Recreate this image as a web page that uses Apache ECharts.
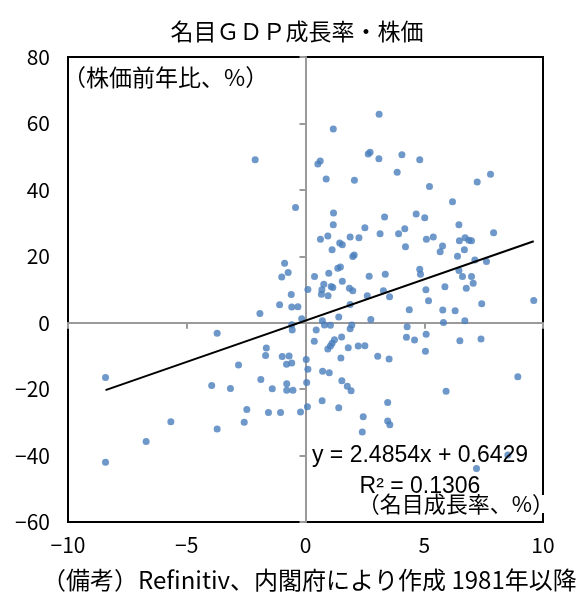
<!DOCTYPE html>
<html><head><meta charset="utf-8">
<script src="https://cdn.jsdelivr.net/npm/echarts@6/dist/echarts.min.js"></script>
<style>html,body{margin:0;padding:0;background:#fff}#c{width:586px;height:597px}</style>
</head><body><div id="c"></div>
<script>
const titleText = '名目ＧＤＰ成長率・株価';
const yAxisTitle = '（株価前年比、%）';
const xAxisTitle = '（名目成長率、%）';
const noteText = '（備考）Refinitiv、内閣府により作成 1981年以降';
const xTicks = [-10, -5, 0, 5, 10];
const yTicks = [-60, -40, -20, 0, 20, 40, 60, 80];

// x: nominal GDP growth (%), y: stock price YoY (%)
const nominalGrowth = [
  -8.42,-8.42,-6.71,-5.67,-3.95,-3.72,-3.72,-3.16,-2.82,-2.58,
  -2.47,-2.12,-1.92,-1.88,-1.65,-1.68,-1.56,-1.40,-1.09,-1.05,
  -1.0,-0.98,-0.88,-0.8,-0.79,-0.79,-0.73,-0.69,-0.6,-0.58,
  -0.58,-0.56,-0.58,-0.53,-0.42,-0.32,-0.21,-0.16,
  0.03,0.1,0.05,0.08,0.1,0.37,0.38,0.45,0.52,0.62,
  0.63,0.67,0.69,0.77,0.71,0.72,0.70,0.8,0.87,0.94,
  0.95,0.94,0.98,1.0,1.05,1.05,1.08,1.12,1.12,1.15,
  1.17,1.18,1.17,1.22,1.36,1.40,1.40,1.44,1.47,1.49,
  1.52,1.53,1.55,1.55,1.76,1.80,1.85,1.88,1.88,1.88,
  1.95,1.92,1.99,1.99,2.05,2.06,2.22,2.25,2.39,2.43,
  2.50,2.50,2.60,2.64,2.72,2.68,2.75,3.04,3.09,3.10,
  3.14,3.28,3.33,3.36,3.46,3.46,3.52,3.55,3.54,3.86,
  3.92,4.06,4.18,4.21,4.25,4.28,4.37,4.59,4.66,4.81,
  4.81,4.84,5.02,5.05,5.07,5.08,5.09,5.18,5.22,5.38,
  5.67,5.77,5.78,5.81,5.87,5.92,6.19,6.30,6.40,6.46,
  6.46,6.48,6.50,6.61,6.69,6.71,6.72,6.77,6.88,6.99,
  6.99,7.06,7.13,7.2,7.23,7.39,7.42,7.62,7.79,7.92,
  8.52,8.94,9.61
];
const stockYoY = [
  -16.5,-42.0,-35.8,-29.8,-18.9,-3.2,-32.0,-19.8,-12.7,-30.0,
  -26.1,49.1,2.8,-17.1,-7.6,-9.9,-27.0,-19.9,5.4,-27.0,
  13.8,-10.2,17.9,-12.5,-18.4,-20.3,15.1,-10.0,8.5,4.7,
  -0.6,-2.2,-12.1,-20.3,34.7,4.8,-26.9,1.2,
  -11.1,-14.0,-18.0,-25.3,10.0,-5.6,13.9,-2.2,47.8,48.7,
  25.1,8.6,9.9,11.6,0.6,-14.6,-23.5,-0.7,43.3,26.1,
  8.1,-7.9,14.9,-15.1,-0.8,-7.0,10.9,22.0,-6.2,10.6,
  58.3,33.0,29.5,-5.1,16.4,1.7,-25.6,24.0,16.8,-10.6,
  -4.3,-17.5,23.5,12.5,-19.1,-7.5,10.4,25.8,5.5,-1.8,
  -0.7,-20.5,19.9,9.6,20.4,42.9,-7.0,25.6,-32.9,-28.3,
  28.6,-6.9,8.1,50.8,51.3,14.0,1.0,-10.1,49.4,62.8,
  26.8,9.6,31.8,14.6,-24.0,-29.6,-10.9,-30.7,7.8,45.3,
  26.8,50.6,28.3,22.9,-4.4,-1.2,3.9,-5.2,32.7,49.1,
  16.1,14.6,31.6,-8.6,9.9,-3.5,25.1,6.6,41.0,25.8,
  21.4,23.1,3.8,0.1,10.8,-20.6,36.4,3.6,20.0,29.5,
  15.7,24.7,-5.4,13.9,22.0,0.6,25.6,10.4,24.8,24.7,
  13.9,11.9,18.9,-43.9,42.4,-4.9,5.7,18.4,44.7,27.1,
  -39.8,-16.3,6.7
];
const trendSlope = 2.4854;
const trendIntercept = 0.6429;
const rSquared = 0.1306;

const points = nominalGrowth.map((x, i) => [x, stockYoY[i]]);
const xLo = Math.min(...nominalGrowth), xHi = Math.max(...nominalGrowth);
const trendLine = [[xLo, trendSlope * xLo + trendIntercept], [xHi, trendSlope * xHi + trendIntercept]];

const JP = '"Noto Sans CJK JP", sans-serif';
const minusFmt = v => (v < 0 ? '\u2212' + Math.abs(v) : String(v));
const gray = '#9a9a9a';

const chart = echarts.init(document.getElementById('c'), null, {renderer: 'canvas'});
chart.setOption({
  animation: false,
  backgroundColor: '#fff',
  grid: {left: 68, right: 43, top: 57, bottom: 75, show: true, borderColor: '#000', borderWidth: 2, outerBoundsMode: 'none'},
  xAxis: [
    {type: 'value', min: xTicks[0], max: xTicks[xTicks.length - 1], interval: 5, position: 'bottom',
     axisLine: {show: false, onZero: false}, axisTick: {show: false}, splitLine: {show: false},
     axisLabel: {margin: 13, color: '#000', fontSize: 21, fontFamily: JP, formatter: minusFmt}},
    {type: 'value', min: xTicks[0], max: xTicks[xTicks.length - 1], interval: 5, position: 'bottom',
     axisLine: {show: true, onZero: true, onZeroAxisIndex: 0, lineStyle: {color: gray, width: 2}},
     axisTick: {show: true, length: 6, lineStyle: {color: gray, width: 2}},
     axisLabel: {show: false}, splitLine: {show: false}}
  ],
  yAxis: [
    {type: 'value', min: yTicks[0], max: yTicks[yTicks.length - 1], interval: 20, position: 'left',
     axisLine: {show: false, onZero: false}, axisTick: {show: false}, splitLine: {show: false},
     axisLabel: {margin: 18, color: '#000', fontSize: 21, fontFamily: JP, formatter: minusFmt}},
    {type: 'value', min: yTicks[0], max: yTicks[yTicks.length - 1], interval: 20, position: 'left',
     axisLine: {show: true, onZero: true, onZeroAxisIndex: 0, lineStyle: {color: gray, width: 2}},
     axisTick: {show: true, length: 6, lineStyle: {color: gray, width: 2}},
     axisLabel: {show: false}, splitLine: {show: false}}
  ],
  series: [
    {type: 'scatter', xAxisIndex: 0, yAxisIndex: 0, data: points, symbol: 'circle', symbolSize: 7,
     itemStyle: {color: '#4a7ebb'}, z: 3},
    {type: 'line', xAxisIndex: 0, yAxisIndex: 0, data: trendLine, showSymbol: false, symbol: 'none',
     lineStyle: {color: '#000', width: 2}, z: 4}
  ],
  graphic: [
    {type: 'text', x: 297, y: 31, z: 10, style: {text: titleText, font: '23px ' + JP, fill: '#000', align: 'center', verticalAlign: 'middle'}},
    {type: 'text', x: 63, y: 77, z: 10, style: {text: yAxisTitle, font: '23px ' + JP, fill: '#000', align: 'left', verticalAlign: 'middle'}},
    {type: 'text', x: 420, y: 456, z: 10, style: {text: 'y = ' + trendSlope + 'x + ' + trendIntercept, font: '23px "Liberation Sans", sans-serif', fill: '#000', align: 'center', verticalAlign: 'middle'}},
    {type: 'text', x: 420, y: 487, z: 10, style: {text: 'R² = ' + rSquared, font: '23px "Liberation Sans", sans-serif', fill: '#000', align: 'center', verticalAlign: 'middle'}},
    {type: 'text', x: 554, y: 504, z: 11, style: {text: xAxisTitle, font: '22px ' + JP, lineHeight: 18, fill: '#000', align: 'right', verticalAlign: 'middle', backgroundColor: '#fff'}},
    {type: 'text', x: 42, y: 580, z: 10, style: {text: noteText, font: '24px ' + JP, fill: '#000', align: 'left', verticalAlign: 'middle'}}
  ]
});
</script></body></html>
